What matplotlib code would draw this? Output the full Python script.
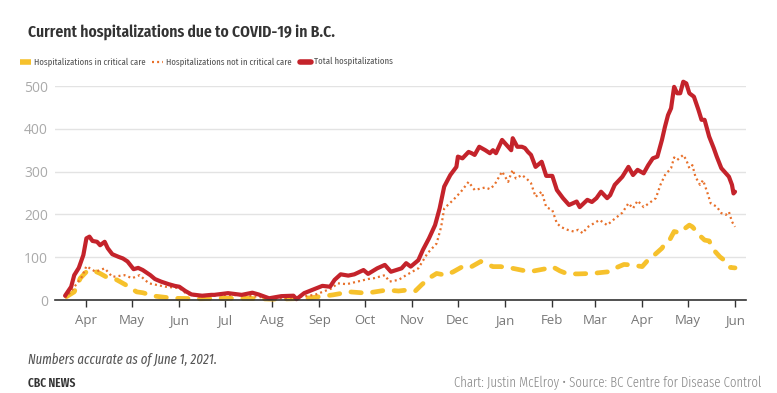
import numpy as np
import pandas as pd
import matplotlib
matplotlib.use("Agg")
import matplotlib.pyplot as plt
import matplotlib.dates as mdates
from matplotlib import font_manager
from matplotlib.font_manager import FontProperties
from matplotlib.lines import Line2D


def find_font(choices, weight=400, style='normal'):
    # choices: list of (family, stretch); returns FontProperties of the first one installed
    fl = font_manager.fontManager.ttflist
    for name, stretch in choices:
        hits = [f for f in fl if f.name == name and f.style == style
                and (stretch is None or f.stretch == stretch)]
        if hits:
            best = min(hits, key=lambda f: abs(int(f.weight) - weight) if str(f.weight).isdigit() else 999)
            return FontProperties(fname=best.fname)
    return FontProperties(family='DejaVu Sans', weight=weight, style=style)


title_font = find_font([('Fira Sans Extra Condensed', None), ('Fira Sans Condensed', None),
                        ('Roboto Condensed', None)], weight=600)
leg_font = find_font([('Fira Sans Extra Condensed', None), ('Roboto Condensed', None)], weight=400)
src_font = find_font([('Fira Sans Extra Condensed', None), ('Roboto Condensed', None)], weight=300)
note_font = find_font([('Fira Sans Extra Condensed', None), ('Roboto Condensed', None)],
                      weight=400, style='italic')
brand_font = find_font([('Fira Sans Extra Condensed', None), ('Roboto Condensed', None)], weight=600)
body = 'Open Sans'

# ---------------------------------------------------------------- data
total_dates = ['2020-03-18', '2020-03-22', '2020-03-24', '2020-03-27', '2020-03-30', '2020-04-01',
               '2020-04-03', '2020-04-05', '2020-04-08', '2020-04-10', '2020-04-13', '2020-04-15',
               '2020-04-18', '2020-04-22', '2020-04-25', '2020-04-28', '2020-05-02', '2020-05-05',
               '2020-05-08', '2020-05-13', '2020-05-16', '2020-05-20', '2020-05-25', '2020-05-29',
               '2020-06-01', '2020-06-05', '2020-06-09', '2020-06-16', '2020-06-22', '2020-06-24',
               '2020-07-03', '2020-07-12', '2020-07-19', '2020-07-23', '2020-07-30', '2020-08-07',
               '2020-08-15', '2020-08-17', '2020-08-22', '2020-08-27', '2020-09-03', '2020-09-08',
               '2020-09-11', '2020-09-15', '2020-09-20', '2020-09-24', '2020-09-30', '2020-10-03',
               '2020-10-09', '2020-10-14', '2020-10-18', '2020-10-25', '2020-10-28', '2020-10-31',
               '2020-11-05', '2020-11-08', '2020-11-12', '2020-11-16', '2020-11-19', '2020-11-22',
               '2020-11-26', '2020-11-30', '2020-12-01', '2020-12-04', '2020-12-08', '2020-12-10',
               '2020-12-12', '2020-12-15', '2020-12-19', '2020-12-22', '2020-12-24', '2020-12-26',
               '2020-12-30', '2021-01-02', '2021-01-05', '2021-01-06', '2021-01-09', '2021-01-12',
               '2021-01-14', '2021-01-16', '2021-01-18', '2021-01-21', '2021-01-25', '2021-01-28',
               '2021-02-01', '2021-02-04', '2021-02-08', '2021-02-12', '2021-02-17', '2021-02-19',
               '2021-02-24', '2021-02-27', '2021-03-02', '2021-03-05', '2021-03-09', '2021-03-11',
               '2021-03-14', '2021-03-19', '2021-03-23', '2021-03-26', '2021-03-29', '2021-04-02',
               '2021-04-05', '2021-04-08', '2021-04-11', '2021-04-14', '2021-04-16', '2021-04-18',
               '2021-04-20', '2021-04-22', '2021-04-24', '2021-04-26', '2021-04-28', '2021-04-30',
               '2021-05-02', '2021-05-05', '2021-05-08', '2021-05-10', '2021-05-12', '2021-05-15',
               '2021-05-18', '2021-05-20', '2021-05-23', '2021-05-25', '2021-05-28', '2021-05-30',
               '2021-05-31', '2021-06-01']
total_vals = [10, 31, 58, 75, 105, 144,
              148, 138, 136, 128, 136, 121,
              107, 101, 97, 90, 72, 75,
              70, 58, 49, 43, 37, 33,
              31, 21, 13, 10, 12, 12,
              16, 12, 17, 13, 4, 9,
              10, 2, 16, 23, 33, 31,
              47, 60, 57, 60, 70, 61,
              74, 82, 66, 74, 86, 78,
              93, 117, 144, 175, 214, 265,
              292, 311, 335, 331, 346, 343,
              339, 358, 350, 343, 350, 343,
              374, 362, 350, 378, 358, 358,
              355, 346, 339, 311, 323, 290,
              290, 257, 238, 222, 230, 217,
              234, 229, 238, 253, 238, 245,
              269, 288, 311, 292, 304, 296,
              315, 331, 335, 374, 405, 432,
              448, 498, 483, 483, 510, 506,
              483, 475, 444, 421, 421, 382,
              355, 335, 308, 300, 288, 269,
              249, 253]

noncrit_dates = ['2020-03-18', '2020-03-20', '2020-03-25', '2020-03-29', '2020-04-01', '2020-04-07',
                 '2020-04-13', '2020-04-18', '2020-04-26', '2020-05-01', '2020-05-06', '2020-05-12',
                 '2020-05-23', '2020-06-01', '2020-06-06', '2020-06-15', '2020-07-01', '2020-07-15',
                 '2020-08-01', '2020-08-15', '2020-08-29', '2020-09-09', '2020-09-13', '2020-09-19',
                 '2020-09-26', '2020-10-03', '2020-10-07', '2020-10-14', '2020-10-17', '2020-10-23',
                 '2020-10-28', '2020-11-05', '2020-11-11', '2020-11-17', '2020-11-20', '2020-11-22',
                 '2020-11-28', '2020-12-03', '2020-12-08', '2020-12-12', '2020-12-19', '2020-12-22',
                 '2020-12-25', '2020-12-30', '2021-01-03', '2021-01-05', '2021-01-06', '2021-01-08',
                 '2021-01-12', '2021-01-15', '2021-01-18', '2021-01-21', '2021-01-25', '2021-01-28',
                 '2021-02-01', '2021-02-04', '2021-02-07', '2021-02-11', '2021-02-15', '2021-02-18',
                 '2021-02-21', '2021-02-24', '2021-03-04', '2021-03-09', '2021-03-13', '2021-03-19',
                 '2021-03-23', '2021-03-26', '2021-03-29', '2021-04-02', '2021-04-07', '2021-04-10',
                 '2021-04-13', '2021-04-16', '2021-04-20', '2021-04-22', '2021-04-24', '2021-04-28',
                 '2021-04-30', '2021-05-02', '2021-05-04', '2021-05-06', '2021-05-09', '2021-05-11',
                 '2021-05-14', '2021-05-16', '2021-05-20', '2021-05-23', '2021-05-26', '2021-05-28',
                 '2021-05-30', '2021-06-01']
noncrit_vals = [5, 12, 35, 54, 79, 66,
                74, 54, 58, 51, 58, 39,
                31, 28, 14, 8, 12, 11,
                3, 6, 12, 27, 39, 37,
                43, 49, 51, 58, 43, 47,
                58, 74, 109, 132, 171, 214,
                234, 253, 276, 257, 263, 259,
                269, 300, 276, 296, 304, 284,
                292, 284, 273, 241, 253, 217,
                210, 179, 170, 164, 160, 164,
                156, 170, 187, 175, 187, 204,
                226, 214, 232, 217, 230, 238,
                269, 292, 308, 333, 327, 339,
                327, 308, 315, 288, 269, 280,
                249, 226, 218, 203, 199, 206,
                183, 171]

crit_dates = ['2020-03-19', '2020-03-24', '2020-03-28', '2020-04-01', '2020-04-05', '2020-04-10',
              '2020-04-14', '2020-04-21', '2020-04-27', '2020-05-04', '2020-05-08', '2020-05-16',
              '2020-05-28', '2020-06-15', '2020-07-01', '2020-07-15', '2020-08-01', '2020-08-15',
              '2020-08-26', '2020-09-10', '2020-09-21', '2020-10-02', '2020-10-13', '2020-10-16',
              '2020-10-23', '2020-10-28', '2020-11-03', '2020-11-07', '2020-11-12', '2020-11-17',
              '2020-11-23', '2020-11-28', '2020-12-04', '2020-12-09', '2020-12-16', '2020-12-24',
              '2020-12-29', '2021-01-06', '2021-01-17', '2021-01-29', '2021-02-01', '2021-02-06',
              '2021-02-11', '2021-02-18', '2021-02-27', '2021-03-10', '2021-03-14', '2021-03-20',
              '2021-03-25', '2021-04-01', '2021-04-04', '2021-04-09', '2021-04-14', '2021-04-16',
              '2021-04-19', '2021-04-22', '2021-04-26', '2021-04-29', '2021-05-02', '2021-05-04',
              '2021-05-09', '2021-05-12', '2021-05-15', '2021-05-18', '2021-05-22', '2021-05-26',
              '2021-05-29', '2021-06-01']
crit_vals = [8, 19, 51, 66, 70, 62,
             54, 47, 35, 19, 17, 9,
             4, 3, 4, 4, 2, 3,
             5, 12, 19, 16, 22, 23,
             21, 23, 21, 35, 51, 62,
             58, 66, 78, 76, 90, 78,
             78, 74, 66, 74, 78, 68,
             61, 61, 62, 66, 74, 83,
             82, 78, 90, 105, 121, 132,
             140, 160, 157, 167, 175, 171,
             150, 140, 138, 117, 101, 90,
             76, 75]

yticks = [0, 100, 200, 300, 400, 500]
labels = ['Hospitalizations in critical care', 'Hospitalizations not in critical care',
          'Total hospitalizations']

c_crit, c_non, c_tot = '#f6c12c', '#e8702a', '#c4232b'

# ---------------------------------------------------------------- plot
fig = plt.figure(figsize=(7.77, 3.93), dpi=100)
ax = fig.add_axes([55/777, 1 - 300/393, 691/777, 214/393])

ax.plot(pd.to_datetime(crit_dates), crit_vals, color=c_crit, lw=3.4,
        dashes=(2.2, 2.4), dash_capstyle='round', clip_on=False, zorder=3)
ax.plot(pd.to_datetime(noncrit_dates), noncrit_vals, color=c_non, lw=1.6,
        dashes=(0.9, 1.4), clip_on=False, zorder=4)
ax.plot(pd.to_datetime(total_dates), total_vals, color=c_tot, lw=3.0,
        solid_joinstyle='round', solid_capstyle='round', clip_on=False, zorder=5)

ax.set_xlim(pd.Timestamp('2020-03-11 09:00'), pd.Timestamp('2021-06-08 05:00'))
ax.set_ylim(0, 500)
ax.set_yticks(yticks)
ax.grid(axis='y', color='#e3e3e3', lw=1)
ax.set_axisbelow(True)
for s in ['top', 'right', 'left']:
    ax.spines[s].set_visible(False)
ax.spines['bottom'].set_color('#333333')
ax.spines['bottom'].set_linewidth(1.2)
ax.spines['bottom'].set_zorder(6)

ax.xaxis.set_major_locator(mdates.MonthLocator())
ax.xaxis.set_major_formatter(mdates.DateFormatter('%b'))
ax.tick_params(axis='x', length=5, width=1, color='#333333', labelcolor='#777777',
               labelsize=9.5, pad=5)
ax.tick_params(axis='y', length=0, labelcolor='#aaaaaa', labelsize=10, pad=5)
for t in ax.get_xticklabels() + ax.get_yticklabels():
    t.set_fontfamily(body)

fig.canvas.draw()
r = fig.canvas.get_renderer()


def fit(t, width, maxsize):
    # scale the font so the text spans about `width` pixels
    w = t.get_window_extent(r).width
    t.set_fontsize(min(maxsize, t.get_fontsize() * width / w))
    return t


# title
ttl = fig.text(28/777, 1 - 37/393, 'Current hospitalizations due to COVID-19 in B.C.',
               fontproperties=title_font, fontsize=14, color='#333333', va='baseline')
fit(ttl, 307, 15)

# legend, laid out by hand
ly = 1 - 62/393
styles = [dict(color=c_crit, lw=4, solid_capstyle='butt'),
          dict(color=c_non, lw=1.6, dashes=(0.9, 1.4)),
          dict(color=c_tot, lw=4, solid_capstyle='round')]
starts = [19, 151, 299]
widths = [110, 124, 78]
for lab, st, x0, w in zip(labels, styles, starts, widths):
    fig.add_artist(Line2D([(x0 + 1)/777, (x0 + 12)/777], [ly, ly], transform=fig.transFigure, **st))
    t = fig.text((x0 + 15)/777, ly, lab, fontproperties=leg_font, fontsize=9,
                 color='#555555', va='center')
    fit(t, w, 10)

# footer
note = fig.text(28/777, 1 - 360/393, 'Numbers accurate as of June 1, 2021.',
                fontproperties=note_font, fontsize=9, color='#555555', va='center')
fit(note, 208, 10)
brand = fig.text(28/777, 1 - 383/393, 'CBC NEWS', fontproperties=brand_font, fontsize=8,
                 color='#333333', va='center')
fit(brand, 51, 9)
src = fig.text(761/777, 1 - 383/393, 'Chart: Justin McElroy \u2022 Source: BC Centre for Disease Control',
               fontproperties=src_font, fontsize=8.5, color='#888888', va='center', ha='right')
fit(src, 321, 10)

plt.savefig('out.png', dpi=100)
plt.close()
